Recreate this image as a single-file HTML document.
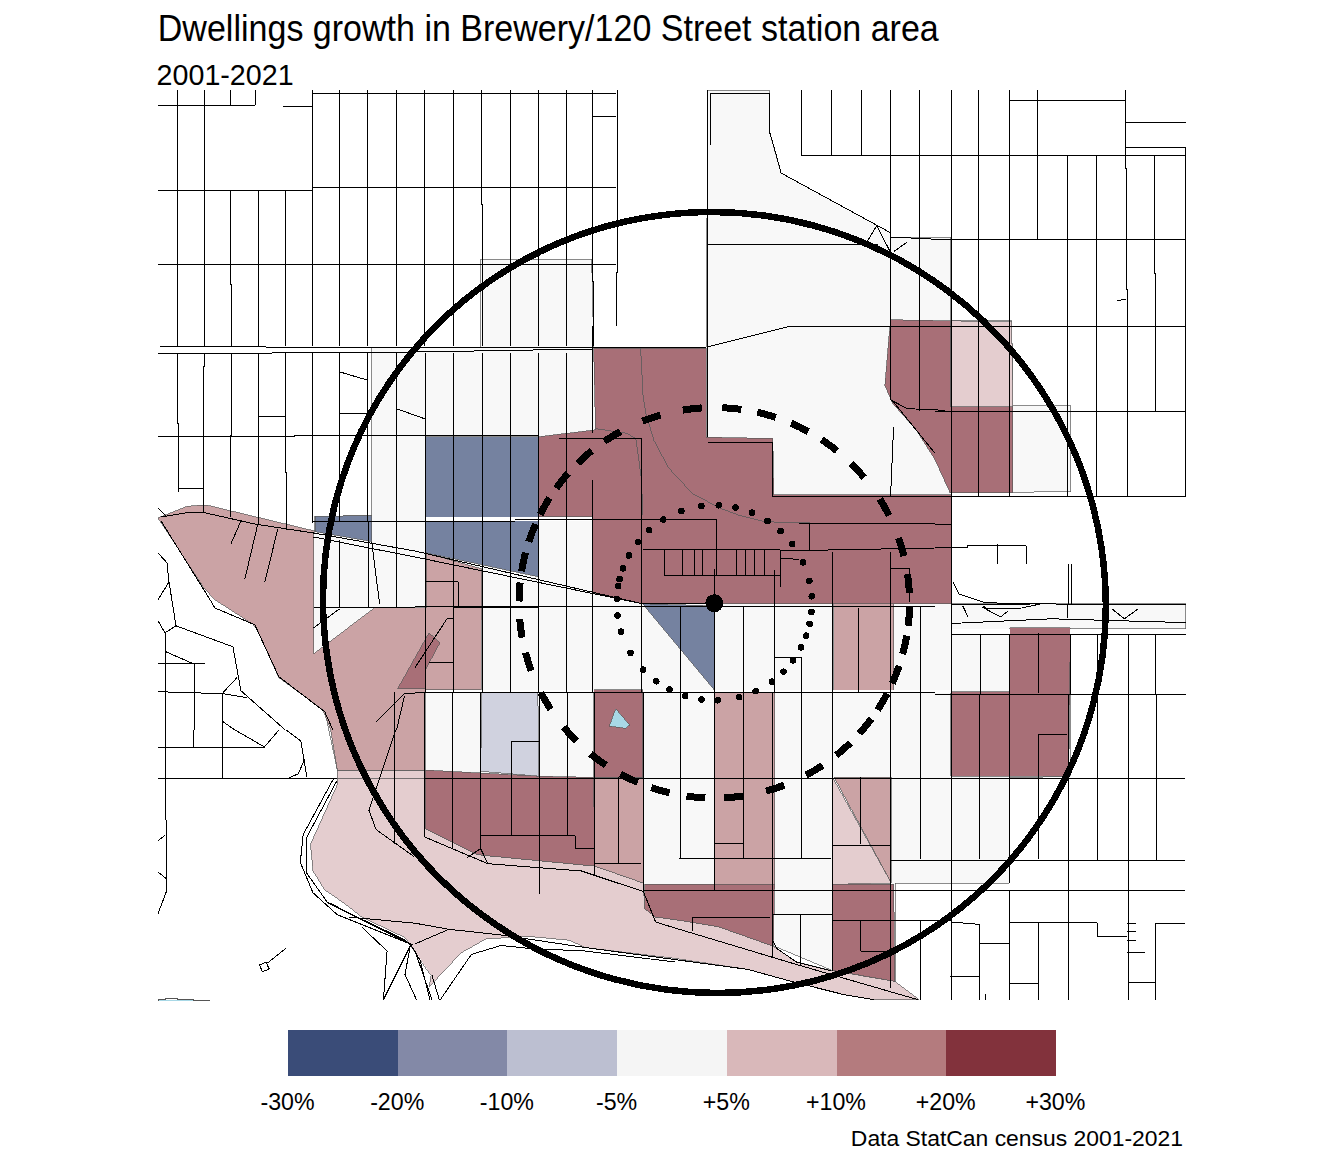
<!DOCTYPE html>
<html><head><meta charset="utf-8"><style>
html,body{margin:0;padding:0;background:#fff;}
svg{display:block;shape-rendering:crispEdges;font-family:"Liberation Sans",sans-serif;}
</style></head><body>
<svg width="1344" height="1152" viewBox="0 0 1344 1152">
<rect width="1344" height="1152" fill="#fff"/>
<polygon points="371.9,347.0 480.5,347.0 480.5,259.3 591.7,259.3 593.7,347.0 706.0,347.0 708.0,90.0 769.0,90.0 769.0,130.0 781.0,173.0 890.9,233.0 890.9,237.0 950.8,237.0 950.8,320.8 1011.7,320.8 1012.9,405.9 1070.8,405.9 1070.8,491.7 951.0,492.7 951.0,603.8 1185.6,603.8 1185.6,628.8 1070.4,628.8 1070.4,776.2 1009.0,778.0 1009.0,883.1 895.0,883.1 895.0,981.5 832.5,970.6 774.6,946.3 644.6,908.6 594.8,866.0 425.0,828.4 337.3,770.0 313.7,658.7 313.7,536.0 315.0,516.4 371.9,515.6" fill="#f8f8f8" stroke="#5a5a5a" stroke-width="0.7"/>
<polygon points="337.3,770.0 425.0,770.0 425.0,828.4 475.8,853.9 481.8,855.2 594.8,866.1 643.4,883.1 644.6,908.6 655.6,917.1 675.0,919.6 718.7,926.8 773.4,946.3 777.0,948.7 796.5,962.0 830.5,970.6 895.0,981.5 919.2,999.7 874.3,999.7 845.0,994.9 791.6,981.5 747.9,969.4 675.0,958.4 585.1,947.5 569.3,940.2 529.4,936.5 486.2,938.8 461.0,952.9 429.0,987.1 431.2,975.2 411.1,945.5 404.4,937.3 361.6,917.0 347.9,906.0 330.0,893.4 325.0,890.4 313.0,871.0 310.5,844.2 337.3,784.7" fill="#e4cdcf" stroke="#5a5a5a" stroke-width="0.7"/>
<polygon points="158.0,518.0 187.0,506.4 203.0,505.0 209.0,505.6 314.7,531.0 313.7,536.0 313.7,653.8 374.6,607.8 426.0,607.8 426.0,552.9 481.9,568.9 481.0,689.7 425.0,689.7 425.0,770.0 337.3,770.0 330.7,729.6 322.7,709.7 278.8,677.7 256.8,628.8 252.8,624.2 214.9,599.8 203.9,587.9" fill="#cba3a5" stroke="#5a5a5a" stroke-width="0.7"/>
<polygon points="594.8,777.4 643.4,777.4 643.4,883.1 594.8,866.1" fill="#cba3a5" stroke="#5a5a5a" stroke-width="0.7"/>
<polygon points="714.0,692.7 774.8,692.7 774.6,884.3 714.0,884.3" fill="#cba3a5" stroke="#5a5a5a" stroke-width="0.7"/>
<polygon points="833.7,602.8 893.6,602.8 893.6,690.7 833.7,690.7" fill="#cba3a5" stroke="#5a5a5a" stroke-width="0.7"/>
<polygon points="834.2,777.4 891.3,777.4 891.3,883.1" fill="#cba3a5" stroke="#5a5a5a" stroke-width="0.7"/>
<polygon points="832.5,777.4 891.3,883.1 832.5,884.3" fill="#e4cdcf" stroke="#5a5a5a" stroke-width="0.7"/>
<polygon points="593.7,348.0 706.0,348.0 706.0,437.2 772.8,438.5 773.8,494.7 951.0,494.7 951.0,603.8 714.0,603.5 642.6,603.8 592.7,592.9 592.7,516.7 538.8,516.7 538.8,436.8 595.5,429.8" fill="#a86f77" stroke="#5a5a5a" stroke-width="0.7"/>
<polygon points="890.9,319.8 950.8,320.8 950.8,406.9 1012.9,406.9 1012.9,492.7 951.0,492.7 950.0,492.7 934.6,458.8 915.9,429.6 892.9,403.7 884.9,385.7 889.0,335.8" fill="#a86f77" stroke="#5a5a5a" stroke-width="0.7"/>
<polygon points="950.8,320.8 1011.7,322.0 1012.9,406.9 950.8,406.9" fill="#e4cdcf" stroke="#5a5a5a" stroke-width="0.7"/>
<polygon points="425.0,770.0 539.0,776.2 593.6,777.4 594.8,866.1 481.8,855.2 475.8,853.9 425.0,828.4" fill="#a86f77" stroke="#5a5a5a" stroke-width="0.7"/>
<polygon points="644.6,884.3 774.6,884.3 773.4,946.3 718.7,926.8 675.0,919.6 655.6,917.1 644.6,908.6" fill="#a86f77" stroke="#5a5a5a" stroke-width="0.7"/>
<polygon points="832.5,884.3 893.6,884.3 895.0,981.5 832.5,970.6" fill="#a86f77" stroke="#5a5a5a" stroke-width="0.7"/>
<polygon points="593.7,689.7 642.6,689.7 642.6,777.4 593.6,777.4" fill="#a86f77" stroke="#5a5a5a" stroke-width="0.7"/>
<polygon points="1009.9,627.8 1070.4,627.8 1068.7,776.2 950.8,776.2 951.0,691.7 1009.9,691.7" fill="#a86f77" stroke="#5a5a5a" stroke-width="0.7"/>
<polygon points="397.6,688.7 429.0,632.8 440.0,642.8 426.0,668.7 425.0,688.7" fill="#a86f77" stroke="#5a5a5a" stroke-width="0.7"/>
<polygon points="425.7,436.8 538.8,436.8 538.8,576.9 426.0,552.9" fill="#7582a0" stroke="#5a5a5a" stroke-width="0.7"/>
<polygon points="315.3,516.4 371.7,515.6 371.9,541.6 315.0,531.6" fill="#7582a0" stroke="#5a5a5a" stroke-width="0.7"/>
<polygon points="642.6,603.8 714.0,605.8 714.0,689.7" fill="#7582a0" stroke="#5a5a5a" stroke-width="0.7"/>
<polygon points="482.0,691.7 537.8,691.7 539.0,776.2 480.6,771.3" fill="#d0d2df" stroke="#5a5a5a" stroke-width="0.7"/>
<polygon points="615.7,708.6 629.5,725.0 626.0,728.4 609.4,726.1" fill="#a8d8e6" stroke="#5a5a5a" stroke-width="0.7"/>
<polygon points="425.0,517.0 592.7,517.0 592.7,520.5 425.0,520.5" fill="#fff"/>
<polygon points="425.0,689.8 593.7,689.8 593.7,692.6 425.0,692.6" fill="#fff"/>
<polygon points="642.6,689.8 951.0,689.8 951.0,692.6 642.6,692.6" fill="#fff"/>
<polygon points="951.0,628.8 1009.9,628.8 1009.9,634.0 951.0,634.0" fill="#fff"/>
<polygon points="1070.4,628.8 1185.6,628.8 1185.6,634.0 1070.4,634.0" fill="#fff"/>
<path d="M640.6,348.0 L643.0,395.0 L645.8,413.2 L654.0,440.6 L668.6,467.9 L692.3,493.4 L719.6,508.0 L739.2,515.3 L764.7,521.7 L792.0,522.6 L809.8,522.5 M595.7,428.7 L626.7,433.3 L635.8,438.7 L641.2,477.0 L643.0,515.3 M337.3,778.6 L425.0,778.6" fill="none" stroke="#5a5a5a" stroke-width="0.8"/>
<path d="M158.0,105.0 L255.4,105.0 M230.5,90.0 L230.5,105.0 M255.4,90.0 L255.4,105.0 M282.8,106.2 L312.3,106.2 M177.4,90.0 L177.4,346.0 M204.3,90.0 L204.3,346.0 M230.5,190.0 L230.5,284.7 L231.3,284.7 L231.3,346.0 M312.3,90.0 L312.3,346.0 M312.3,93.4 L615.7,93.4 M339.3,90.0 L339.3,346.0 M367.3,90.0 L367.3,346.0 M396.2,90.0 L396.2,346.0 M424.4,90.0 L424.4,346.0 M453.5,90.0 L453.5,346.0 M510.4,90.0 L510.4,346.0 M538.4,90.0 L538.4,346.0 M566.4,90.0 L566.4,346.0 M481.5,90.0 L481.5,204.8 L482.5,204.8 L482.5,346.0 M592.3,90.0 L592.3,281.7 L593.3,281.7 L593.3,346.0 M617.3,90.0 L617.3,272.7 L616.3,272.7 L616.3,326.0 M592.3,116.5 L615.7,116.5 M158.0,190.2 L312.3,190.2 M312.3,187.4 L615.7,187.4 M258.4,190.0 L258.4,346.0 M285.4,190.0 L285.4,346.0 M158.0,264.3 L615.7,264.3 M158.0,346.0 L372.0,348.0 L593.0,347.0 L706.0,347.0 M158.0,353.0 L272.0,353.0 L415.0,352.0 L593.0,349.0 M177.4,353.0 L177.4,423.8 L178.6,423.8 L178.6,491.7 M178.6,488.7 L203.0,488.7 M204.3,353.0 L204.3,366.0 L203.1,366.0 L203.1,512.7 M231.3,353.0 L231.3,435.8 L230.5,435.8 L230.5,516.7 M258.4,353.0 L258.4,523.7 M285.4,353.0 L285.4,472.7 L286.4,472.7 L286.4,529.7 M312.3,353.0 L312.3,522.7 M339.3,353.0 L339.3,520.7 M367.5,353.0 L367.5,522.0 M339.3,413.8 L367.3,413.8 M339.7,371.9 L366.7,379.9 M396.6,353.0 L396.6,607.8 M396.8,408.8 L424.8,418.8 M158.0,436.8 L294.8,436.8 L294.8,435.8 L538.8,435.8 M258.4,416.4 L285.4,416.4 M368.9,522.0 L368.9,607.8 M339.7,540.0 L339.7,607.8 M425.7,353.0 L425.7,692.0 M453.5,353.0 L453.5,692.0 M482.0,353.0 L482.0,692.0 M510.4,353.0 L510.4,692.0 M538.8,353.0 L538.8,692.0 M566.8,353.0 L566.8,692.0 M592.7,326.0 L592.7,432.8 M616.3,315.0 L616.3,326.0 M558.8,438.8 L641.6,438.8 M641.6,438.8 L641.6,692.0 M592.3,479.7 L592.3,692.0 M514.8,519.7 L675.0,519.7 M312.4,521.6 L514.8,521.6 M707.0,347.0 L790.8,326.0 L890.6,326.0 L1185.2,326.0 M707.0,90.0 L707.0,437.0 M890.6,90.0 L890.6,399.9 M890.6,399.9 L907.6,408.8 L934.6,409.5 L951.0,411.8 M892.6,400.9 L934.6,452.8 M919.6,90.0 L919.6,410.8 M708.0,442.8 L772.8,442.8 M772.8,442.8 L772.8,496.7 M772.8,496.7 L1185.2,496.7 M893.6,426.8 L890.6,495.7 M675.0,519.7 L716.9,519.7 M716.9,519.7 L716.9,575.5 M798.8,523.0 L935.0,523.0 M809.2,523.0 L809.2,550.9 M710.0,145.0 L710.0,93.4 L769.0,93.4 L769.0,130.0 L776.0,154.0 L781.0,173.0 L890.6,232.8 M707.0,244.7 L878.0,244.7 M801.2,90.0 L801.2,155.3 M831.3,90.0 L831.3,155.3 M861.3,90.0 L861.3,155.3 M801.2,155.3 L1185.2,155.3 M867.7,240.7 L876.7,225.8 L889.7,250.7 M893.7,251.7 L907.6,241.7 M890.9,237.0 L950.8,240.0 L1185.2,239.8 M951.0,90.0 L951.0,1000.0 M978.5,90.0 L978.5,496.7 M1009.5,90.0 L1009.5,496.7 M1037.4,90.0 L1037.4,239.8 M1067.4,155.3 L1067.4,496.7 M1096.3,155.3 L1096.3,496.7 M1125.3,90.0 L1125.3,168.9 L1126.3,168.9 L1126.3,289.7 L1127.3,289.7 L1127.5,496.7 M1154.3,155.3 L1154.3,273.7 L1155.3,273.7 L1155.6,411.8 M1185.2,147.3 L1185.2,496.7 M1009.5,100.0 L1125.3,100.0 M1125.3,122.9 L1185.6,122.9 M1125.3,147.3 L1185.2,147.3 M1116.7,300.6 L1125.7,299.3 M934.6,411.8 L1185.2,411.8 M935.0,524.7 L951.0,524.7 M935.0,547.0 L967.0,547.0 L967.0,545.5 L1025.9,545.5 M997.5,544.0 L997.5,563.9 M1026.5,545.5 L1026.5,563.9 M1068.4,564.0 L1068.4,603.8 M1071.4,564.0 L1071.4,603.8 M953.0,582.0 L959.0,594.0 L985.0,602.8 L1042.0,603.8 M983.0,606.0 L987.0,608.6 L1022.0,608.0 L1040.0,604.0 M951.0,604.8 L1040.0,603.9 L1185.6,604.9 M951.0,623.5 L1051.6,618.8 L1185.6,622.6 M951.0,634.2 L1185.6,634.2 M962.7,605.8 L968.0,616.7 M982.0,607.0 L1000.7,617.0 L1008.5,610.5 M1111.9,608.8 L1124.4,618.8 L1137.6,609.2 M1067.4,603.8 L1067.4,617.8 M980.5,634.0 L980.5,694.0 M1009.9,634.0 L1009.9,694.0 M1070.4,634.0 L1070.4,694.0 M1097.7,634.0 L1097.7,694.0 M1128.7,634.0 L1128.7,694.0 M1155.6,634.0 L1155.6,694.0 M1038.4,633.0 L1038.4,692.7 M935.0,694.1 L1185.6,694.1 M979.5,694.0 L979.5,858.8 M1009.1,694.0 L1009.1,883.1 M1009.8,890.9 L1009.8,999.7 M1038.3,734.4 L1038.3,858.8 M1038.3,734.4 L1067.4,734.4 M1068.2,694.0 L1068.2,999.7 M1097.3,694.0 L1097.3,860.0 M1128.2,694.0 L1128.2,999.7 M1156.1,694.0 L1156.1,860.0 M425.0,778.6 L1185.3,778.6 M891.0,860.0 L1185.3,860.0 M643.4,890.9 L1185.3,890.9 M950.8,922.0 L979.5,924.4 M979.5,924.4 L979.5,999.7 M979.5,943.9 L1009.0,943.9 M950.0,976.0 L979.5,976.0 M1009.8,922.0 L1096.6,922.0 L1097.3,924.4 L1097.3,936.6 L1127.0,936.6 M1009.8,983.2 L1038.3,983.2 M1038.3,922.0 L1038.3,999.7 M1128.2,982.2 L1155.0,982.2 M1155.0,923.2 L1155.0,999.7 M1155.0,923.2 L1185.3,923.2 M1127.0,923.2 L1135.5,923.2 M1127.0,931.2 L1135.5,931.2 M1127.0,940.2 L1135.5,940.2 M1127.0,952.4 L1145.2,952.4 M985.0,993.6 L985.0,999.7 M675.0,549.5 L779.8,549.5 M675.0,575.5 L779.8,575.5 M682.4,549.5 L682.4,575.5 M694.0,549.5 L694.0,575.5 M702.4,549.5 L702.4,575.5 M736.3,549.5 L736.3,575.5 M745.5,549.5 L745.5,575.5 M754.9,549.5 L754.9,575.5 M764.5,549.5 L764.5,575.5 M780.2,549.5 L780.2,586.9 M714.3,568.9 L714.3,594.0 M780.2,550.9 L935.0,548.0 M780.8,558.0 L798.8,559.5 M774.2,569.9 L774.2,692.0 M890.3,568.9 L909.6,568.9 M909.6,568.9 L909.6,601.8 M680.6,606.0 L680.6,858.8 M743.5,606.0 L743.5,858.8 M774.2,657.3 L801.2,657.3 M801.2,657.3 L801.2,858.8 M858.7,608.0 L858.7,692.7 M920.4,607.0 L920.4,858.8 M415.0,606.8 L935.0,606.8 M415.0,692.7 L935.0,692.7 M714.0,606.0 L714.0,890.4 M313.5,533.0 L415.0,551.0 L642.6,603.8 L714.0,603.0 M313.5,537.0 L415.0,557.0 L642.6,603.8 M426.0,581.5 L458.0,581.5 M458.0,581.5 L458.0,606.8 M453.0,607.5 L538.8,607.5 M415.0,667.7 L447.0,618.8 L453.0,618.8 M429.0,662.7 L453.0,662.7 M642.6,549.0 L675.0,549.0 M664.6,550.0 L664.6,575.0 L675.0,575.0 M313.7,607.8 L415.0,607.8 M371.7,542.0 L379.6,603.8 M313.7,627.8 L339.7,608.8 M376.6,721.6 L404.6,693.7 L415.0,693.7 M396.6,729.6 L404.6,695.7 M161.0,517.0 L191.0,512.0 L203.0,512.4 L254.8,524.0 L313.5,533.0 M161.0,521.0 L209.0,598.0 L215.0,608.0 L254.8,624.8 L278.8,676.7 L324.7,711.7 L332.7,729.6 M240.9,521.0 L230.9,543.9 M257.8,524.0 L244.9,578.9 M277.8,529.0 L264.8,581.9 M158.0,508.0 L167.0,517.0 M158.0,552.9 L167.0,562.9 L169.0,581.9 L158.0,599.8 M169.0,581.9 L176.0,625.8 L165.0,632.8 L158.0,620.8 M176.0,625.8 L232.9,646.8 L240.9,690.7 L284.8,729.6 M158.0,663.7 L205.0,663.7 M166.0,651.8 L194.0,664.1 L194.0,730.0 M165.0,632.8 L166.4,891.6 L158.0,913.5 M158.0,691.7 L222.9,693.7 L246.9,697.7 M222.9,693.7 L222.9,778.6 M222.9,692.7 L236.9,677.7 M222.9,721.6 L234.9,730.0 M158.0,747.0 L264.4,747.0 M193.4,730.0 L193.4,747.0 M235.2,730.0 L264.4,747.0 L279.0,730.0 M286.2,730.0 L300.8,741.0 L306.9,777.4 M304.5,759.2 L298.4,773.7 L287.4,778.6 M158.0,778.6 L337.3,778.6 M158.0,840.6 L164.7,835.7 M158.0,872.2 L165.9,878.2 M259.5,965.0 L266.0,962.0 L269.2,969.0 L262.5,971.8 L259.5,965.0 M267.5,963.0 L286.2,948.0 M333.6,778.6 L303.2,834.5 L300.3,862.4 L313.0,892.8 L337.3,914.7 L410.2,943.9 M336.8,781.0 L306.9,836.9 L306.9,873.4 L327.5,902.5 L412.6,945.0 M330.0,903.0 L347.9,912.7 L404.4,939.5 L411.1,945.5 M349.4,917.1 L415.0,923.2 M361.6,926.8 L387.1,951.1 L383.4,999.7 M383.4,999.7 L410.2,946.0 M410.2,946.0 L405.0,974.6 L416.5,999.7 M395.6,730.0 L368.9,810.2 L376.1,829.6 L413.8,856.4 M394.6,692.0 L394.6,844.2 M424.7,692.0 L424.7,837.0 M452.7,692.0 L452.7,849.0 M480.6,692.0 L480.6,849.0 M511.0,741.0 L511.0,834.5 M539.4,692.0 L539.4,894.0 M567.6,692.0 L567.6,834.5 M594.3,692.0 L594.3,875.8 M618.6,777.4 L618.6,863.2 M643.4,692.0 L643.4,890.4 M511.0,741.0 L539.0,741.0 M480.6,835.7 L575.4,835.7 M575.4,835.7 L575.4,848.3 M575.4,848.3 L594.3,848.3 M594.3,863.2 L641.0,863.2 M424.7,837.0 L487.9,863.7 L581.5,871.0 L643.4,891.6 L655.6,922.0 L675.0,928.0 L796.5,964.5 L918.0,999.7 M467.2,857.6 L480.6,848.6 L487.9,863.7 M415.0,923.2 L449.0,929.3 L503.7,935.3 L585.0,947.5 L675.0,959.6 L747.9,969.4 L791.6,981.5 L845.0,994.9 L874.3,999.7 M415.0,943.9 L449.0,929.3 M440.1,1000.0 L471.4,954.4 L501.1,945.5 L530.0,948.5 L585.0,951.0 L675.0,962.0 M415.0,951.1 L432.0,999.7 M432.0,975.2 L439.3,999.7 M411.1,945.5 L420.0,960.0 L430.0,999.7 M772.2,692.0 L772.2,957.2 M832.5,552.0 L832.5,970.6 M860.9,777.4 L860.9,844.2 M890.8,552.0 L890.8,987.6 M679.4,858.8 L831.0,858.8 M713.9,843.0 L743.5,843.0 M831.7,845.4 L891.0,845.4 M773.4,914.7 L831.7,914.7 M800.2,914.7 L800.2,964.5 M692.0,917.1 L769.8,917.1 M692.0,917.1 L692.0,930.5 M832.5,920.8 L950.8,920.8 M860.9,920.8 L860.9,951.1 M860.9,951.1 L890.8,951.1 M920.4,919.6 L920.4,999.7 M772.2,940.0 L777.0,948.7 L796.5,962.0 L830.5,970.6" fill="none" stroke="#000" stroke-width="1" stroke-linejoin="miter"/>
<rect x="159" y="999.6" width="34" height="1.4" fill="#a8d8e6"/>
<path d="M158.3,1000.5 L159.4,999 L165,999 L165,998 L177,998 L177,999 L193,999 L193,1000.5 L209.8,1000.5" fill="none" stroke="#555" stroke-width="1"/>
<ellipse cx="714.4" cy="602.5" rx="392.5" ry="389.3" transform="rotate(-143.4 714.4 602.5)" fill="none" stroke="#000" stroke-width="6.5"/>
<path d="M682.8,410.1 A195.3,195.3 0 0 1 701.7,407.9 M642.4,421.2 A195.3,195.3 0 0 1 660.4,415.1 M604.3,441.4 A195.3,195.3 0 0 1 620.5,431.5 M577.6,463.4 A195.3,195.3 0 0 1 591.7,450.7 M556.2,488.1 A195.3,195.3 0 0 1 568.1,473.3 M540.1,514.6 A195.3,195.3 0 0 1 549.5,498.0 M528.8,541.7 A195.3,195.3 0 0 1 535.6,524.0 M521.6,571.2 A195.3,195.3 0 0 1 525.5,552.7 M519.0,601.5 A195.3,195.3 0 0 1 520.1,582.5 M722.4,407.7 A195.3,195.3 0 0 1 741.3,409.4 M757.3,412.3 A195.3,195.3 0 0 1 775.6,417.4 M791.1,423.2 A195.3,195.3 0 0 1 808.2,431.6 M821.6,439.6 A195.3,195.3 0 0 1 837.0,450.8 M851.3,463.6 A195.3,195.3 0 0 1 864.2,477.6 M879.8,499.0 A195.3,195.3 0 0 1 889.1,515.6 M898.5,537.9 A195.3,195.3 0 0 1 903.9,556.1 M907.5,574.2 A195.3,195.3 0 0 1 909.4,593.1 M522.1,637.6 A195.3,195.3 0 0 1 519.7,618.8 M531.2,670.7 A195.3,195.3 0 0 1 525.5,652.6 M550.6,709.2 A195.3,195.3 0 0 1 541.0,692.8 M576.5,741.1 A195.3,195.3 0 0 1 563.7,727.1 M605.8,765.2 A195.3,195.3 0 0 1 590.5,753.9 M637.7,782.4 A195.3,195.3 0 0 1 620.6,774.1 M669.6,792.9 A195.3,195.3 0 0 1 651.3,787.7 M705.4,797.9 A195.3,195.3 0 0 1 686.5,796.1 M743.1,796.0 A195.3,195.3 0 0 1 724.3,797.8 M784.2,785.2 A195.3,195.3 0 0 1 766.1,791.1 M822.5,765.4 A195.3,195.3 0 0 1 806.2,775.1 M850.6,742.7 A195.3,195.3 0 0 1 836.3,755.3 M871.4,718.8 A195.3,195.3 0 0 1 859.4,733.5 M887.3,693.5 A195.3,195.3 0 0 1 877.6,709.9 M899.2,665.8 A195.3,195.3 0 0 1 892.2,683.4 M906.8,635.6 A195.3,195.3 0 0 1 902.7,654.1 M909.6,606.9 A195.3,195.3 0 0 1 908.2,625.8" fill="none" stroke="#000" stroke-width="7"/>
<circle cx="718.7" cy="505.3" r="3.3" fill="#000"/>
<circle cx="701.4" cy="506.1" r="3.3" fill="#000"/>
<circle cx="681.4" cy="510.9" r="3.3" fill="#000"/>
<circle cx="663.3" cy="519.6" r="3.3" fill="#000"/>
<circle cx="649.1" cy="530.2" r="3.3" fill="#000"/>
<circle cx="638.0" cy="542.0" r="3.3" fill="#000"/>
<circle cx="628.9" cy="555.5" r="3.3" fill="#000"/>
<circle cx="623.0" cy="568.3" r="3.3" fill="#000"/>
<circle cx="619.6" cy="579.2" r="3.3" fill="#000"/>
<circle cx="618.2" cy="586.0" r="3.3" fill="#000"/>
<circle cx="616.8" cy="598.8" r="3.3" fill="#000"/>
<circle cx="735.4" cy="507.5" r="3.3" fill="#000"/>
<circle cx="751.9" cy="512.7" r="3.3" fill="#000"/>
<circle cx="767.5" cy="521.0" r="3.3" fill="#000"/>
<circle cx="780.6" cy="531.2" r="3.3" fill="#000"/>
<circle cx="792.2" cy="544.0" r="3.3" fill="#000"/>
<circle cx="803.2" cy="562.4" r="3.3" fill="#000"/>
<circle cx="809.4" cy="580.8" r="3.3" fill="#000"/>
<circle cx="811.7" cy="596.3" r="3.3" fill="#000"/>
<circle cx="617.5" cy="615.4" r="3.3" fill="#000"/>
<circle cx="621.1" cy="631.7" r="3.3" fill="#000"/>
<circle cx="630.5" cy="652.8" r="3.3" fill="#000"/>
<circle cx="643.2" cy="669.7" r="3.3" fill="#000"/>
<circle cx="656.3" cy="681.3" r="3.3" fill="#000"/>
<circle cx="669.6" cy="689.6" r="3.3" fill="#000"/>
<circle cx="685.2" cy="696.0" r="3.3" fill="#000"/>
<circle cx="701.4" cy="699.5" r="3.3" fill="#000"/>
<circle cx="717.8" cy="700.3" r="3.3" fill="#000"/>
<circle cx="739.1" cy="697.2" r="3.3" fill="#000"/>
<circle cx="755.7" cy="691.2" r="3.3" fill="#000"/>
<circle cx="771.8" cy="681.7" r="3.3" fill="#000"/>
<circle cx="783.5" cy="671.7" r="3.3" fill="#000"/>
<circle cx="793.1" cy="660.4" r="3.3" fill="#000"/>
<circle cx="801.1" cy="647.4" r="3.3" fill="#000"/>
<circle cx="806.2" cy="635.7" r="3.3" fill="#000"/>
<circle cx="809.6" cy="623.8" r="3.3" fill="#000"/>
<circle cx="811.5" cy="611.9" r="3.3" fill="#000"/>
<circle cx="714.3" cy="603.2" r="9" fill="#000"/>
<text transform="translate(157.8,41.4) scale(1,1.065)" font-size="34" textLength="781" lengthAdjust="spacingAndGlyphs" fill="#000">Dwellings growth in Brewery/120 Street station area</text>
<text transform="translate(156.6,84.7) scale(1,1.06)" font-size="28.6" textLength="137" lengthAdjust="spacingAndGlyphs" fill="#000">2001-2021</text>
<rect x="288.0" y="1030" width="110.1" height="46" fill="#3a4c78"/>
<rect x="397.7" y="1030" width="110.1" height="46" fill="#8389a7"/>
<rect x="507.4" y="1030" width="110.1" height="46" fill="#bcbfd1"/>
<rect x="617.1" y="1030" width="110.1" height="46" fill="#f5f5f5"/>
<rect x="726.8" y="1030" width="110.1" height="46" fill="#d9b8ba"/>
<rect x="836.5" y="1030" width="110.1" height="46" fill="#b47b7e"/>
<rect x="946.2" y="1030" width="110.1" height="46" fill="#82323c"/>
<text x="287.5" y="1109.5" font-size="23.2" text-anchor="middle" fill="#000">-30%</text>
<text x="397.2" y="1109.5" font-size="23.2" text-anchor="middle" fill="#000">-20%</text>
<text x="506.9" y="1109.5" font-size="23.2" text-anchor="middle" fill="#000">-10%</text>
<text x="616.6" y="1109.5" font-size="23.2" text-anchor="middle" fill="#000">-5%</text>
<text x="726.3" y="1109.5" font-size="23.2" text-anchor="middle" fill="#000">+5%</text>
<text x="836.0" y="1109.5" font-size="23.2" text-anchor="middle" fill="#000">+10%</text>
<text x="945.7" y="1109.5" font-size="23.2" text-anchor="middle" fill="#000">+20%</text>
<text x="1055.4" y="1109.5" font-size="23.2" text-anchor="middle" fill="#000">+30%</text>
<text x="1183" y="1146.3" font-size="22.9" text-anchor="end" fill="#000">Data StatCan census 2001-2021</text>
</svg></body></html>
